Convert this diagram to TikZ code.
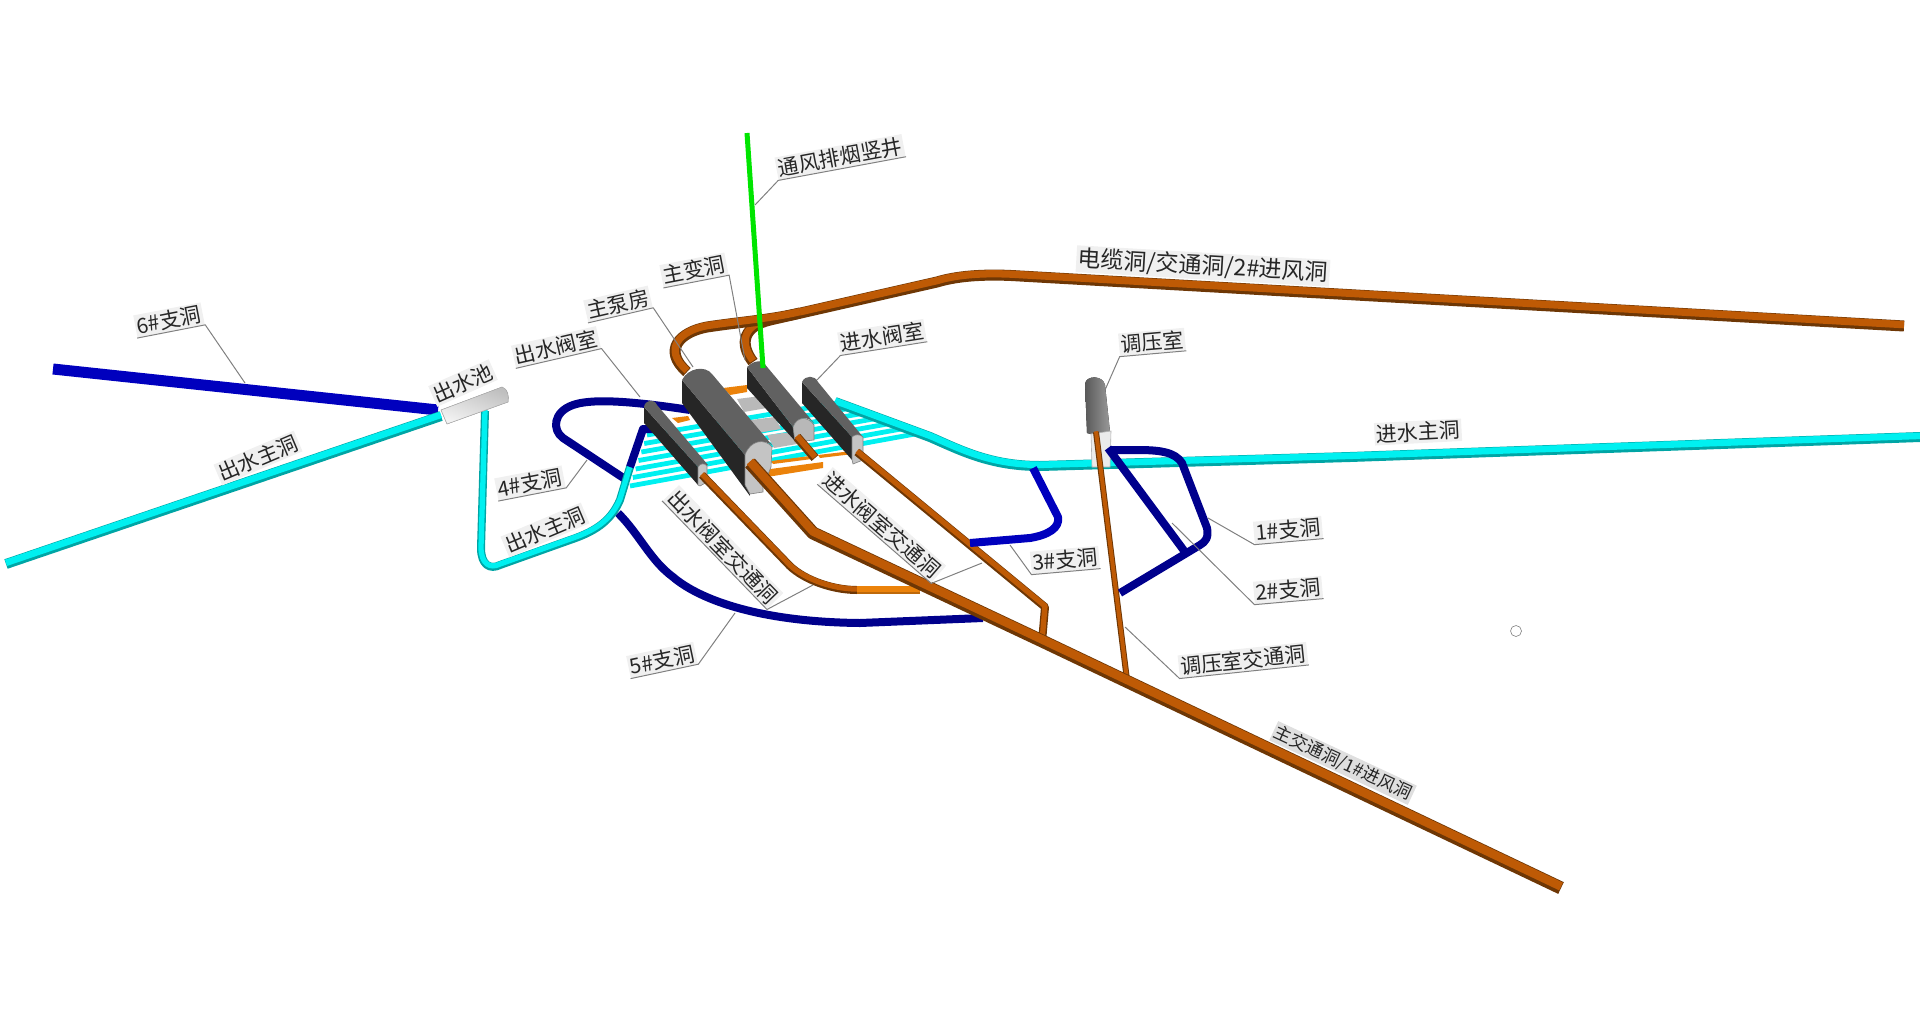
\documentclass[tikz,border=0pt]{standalone}
\usepackage{fontspec}
\setmainfont{Noto Sans CJK SC}
\usetikzlibrary{calc}
\definecolor{brownTop}{RGB}{190,90,5}
\definecolor{brownLow}{RGB}{110,55,5}
\definecolor{orangeTop}{RGB}{235,130,10}
\definecolor{orangeLow}{RGB}{190,105,10}
\definecolor{cyanTop}{RGB}{0,240,240}
\definecolor{cyanLow}{RGB}{0,165,165}
\definecolor{navyPipe}{RGB}{0,0,140}
\definecolor{bluePipe}{RGB}{0,0,190}
\tikzset{pipe/.style n args={3}{draw=#2, line width=#1*0.5pt, line join=round,
    postaction={draw=#3, line width=#1*0.33pt, transform canvas={shift={(0pt,#1*0.06pt)}}}}}
\tikzstyle{brownpipe} = [pipe={11}{brownLow}{brownTop}]
\tikzstyle{thinbrown} = [pipe={8}{brownLow}{brownTop}]
\tikzstyle{cyanpipe} = [pipe={10}{cyanLow}{cyanTop}]
\tikzstyle{navypipe} = [draw=navyPipe, line width=4pt, line join=round]
\tikzstyle{bluepipe} = [draw=bluePipe, line width=4pt, line join=round]
\tikzstyle{tag} = [fill=gray!12, text=black!85, inner sep=0.8pt, font=\fontsize{10.5}{11}\selectfont]
\tikzstyle{leader} = [draw=gray, line width=0.5pt]
\tikzstyle{roof} = [fill=black!62]
\tikzstyle{wall} = [fill=black!85]
\tikzstyle{face} = [fill=black!23, draw=black!50, line width=0.3pt]
\begin{document}
\begin{tikzpicture}[x=0.5pt,y=-0.5pt]
\useasboundingbox (0,0) rectangle (1920,1017);

% Outlet side
\draw [bluepipe, line width=5.5pt] (53,369) -- (438,410);
\draw [cyanpipe] (6,564) -- (441,416);

% Branch tunnels behind the caverns
\draw [navypipe] (625,479) -- (563,438) .. controls (552,430) and (553,412) .. (573,405) .. controls (590,399) and (625,400) .. (690,410);
\draw [navypipe] (618,513) .. controls (640,535) and (650,560) .. (673,577) .. controls (700,600) and (760,622) .. (860,623) -- (983,618);

% Bars between the valve chambers
\coordinate (barLeftLow) at (630,486);
\coordinate (barLeftHigh) at (647,435);
\coordinate (barRightLow) at (915,434);
\coordinate (barRightHigh) at (837,403);
\foreach \i in {0,...,6}
  \draw [draw=cyanTop, line width=2.4pt] ($(barLeftLow)!\i/6!(barLeftHigh)$) -- ($(barRightLow)!\i/6!(barRightHigh)$);

% Outlet main tunnel 2
\draw [pipe={8}{cyanLow}{cyanTop}] (485,411) -- (481,548) .. controls (481,565) and (490,570) .. (500,565) -- (570,540) .. controls (600,530) and (612,518) .. (620,500) -- (630,467);
\draw [navypipe] (630,467) -- (643,429) -- (656,429);

% Inlet main tunnel
\draw [cyanpipe] (835,402) -- (930,437) .. controls (960,450) and (990,466) .. (1040,466) -- (1350,457) -- (1920,437);

% Upper tunnels
\draw [brownpipe] (1904,326) -- (1020,276) .. controls (990,274) and (960,275) .. (937,282) -- (770,320) .. controls (745,326) and (738,342) .. (753,362);
\draw [brownpipe] (800,313) .. controls (770,320) and (740,322) .. (707,327) .. controls (680,332) and (662,350) .. (687,372);

% Orange cross pieces
\fill [orangeTop] (723,388) -- (747,385) -- (747,392) -- (730,395) -- cycle;
\fill [orangeTop] (672,418) -- (688,416) -- (690,420) -- (678,423) -- cycle;
\fill [orangeTop] (771,461) -- (810,456) -- (812,459) -- (773,464) -- cycle;
\fill [orangeTop] (818,455) -- (852,451) -- (853,454) -- (820,458) -- cycle;
\fill [orangeTop] (763,470) -- (823,462) -- (823,468) -- (767,477) -- cycle;

% Grey blocks between the caverns
\foreach \x/\y in {737/399, 751/420, 767/435}
  \fill [gray!55] (\x,\y) -- ++(24,-3) -- ++(6,12) -- ++(-23,4) -- cycle;

% Outlet valve chamber
\fill [wall] (644,407) -- (644,423) -- (698,485) -- (698,467) -- cycle;
\fill [roof] (644,407) .. controls (645,400) and (654,398) .. (657,405) -- (708,465) -- (698,467) -- cycle;
\fill [face] (698,467) .. controls (700,463) and (705,463) .. (707,466) -- (707,482) -- (700,486) -- (698,485) -- cycle;

% Main pump cavern
\fill [wall] (682,403) -- (750,496) -- (745,455) -- (682,380) -- cycle;
\fill [roof] (682,380) .. controls (688,368) and (705,365) .. (712,374) -- (772,445) .. controls (765,440) and (752,440) .. (745,455) -- cycle;
\fill [face] (745,455) .. controls (750,440) and (765,438) .. (772,447) -- (771,467) -- (763,487) -- (763,492) -- (750,494) -- (745,485) -- cycle;

% Main transformer cavern
\fill [wall] (747,367) -- (747,388) -- (795,441) -- (793,427) -- cycle;
\fill [roof] (747,367) .. controls (752,362) and (758,360) .. (763,362) -- (814,423) .. controls (808,416) and (797,416) .. (793,427) -- cycle;
\fill [face, fill=black!28] (793,427) .. controls (797,416) and (808,416) .. (814,425) -- (814,440) -- (795,442) -- cycle;

% Inlet valve chamber
\fill [wall] (802,382) -- (802,403) -- (852,460) -- (852,437) -- cycle;
\fill [roof] (802,382) .. controls (805,375) and (815,375) .. (818,382) -- (863,437) -- (852,437) -- cycle;
\fill [face] (852,437) .. controls (855,434) and (860,434) .. (863,437) -- (863,460) -- (853,464) -- (852,460) -- cycle;

% Green shaft
\draw [draw=green!90!black, line width=2.5pt] (747,133) -- (763,368);

% Outlet pool
\fill [draw=gray!60, line width=0.3pt, top color=gray!50, bottom color=gray!10, shading angle=-20] (441,410) -- (502,387) .. controls (508,389) and (509,396) .. (508,402) -- (447,424) -- cycle;

% Surge chamber
\fill [left color=black!65, right color=black!40] (1085,384) .. controls (1086,375) and (1103,375) .. (1105,385) -- (1110,432) -- (1091,434) -- (1087,433) -- cycle;
\fill [black!8, draw=black!30, line width=0.3pt] (1091,434) -- (1111,431) -- (1110,467) -- (1092,467) -- cycle;

% Access tunnels
\draw [thinbrown] (702,475) -- (787,563) .. controls (800,578) and (830,590) .. (857,590);
\draw [pipe={8}{orangeLow}{orangeTop}] (857,590) -- (920,590);
\draw [thinbrown] (857,452) -- (1045,607) -- (1042,642);
\draw [pipe={9}{brownLow}{brownTop}] (797,437) -- (815,458);
\draw [pipe={6}{brownLow}{brownTop}] (1096,432) -- (1127,680);
\draw [pipe={13}{brownLow}{brownTop}] (750,463) -- (813,533) -- (1040,640) -- (1561,888);

% Branch tunnels in front
\draw [bluepipe] (1033,468) -- (1058,517) .. controls (1060,528) and (1048,535) .. (1030,538) -- (970,543);
\draw [navypipe] (1110,450) -- (1137,450) .. controls (1160,450) and (1175,452) .. (1182,463) -- (1207,528) .. controls (1209,538) and (1205,542) .. (1200,545) -- (1120,593);
\draw [navypipe] (1108,448) -- (1185,552);

% Labels
\node (shaftTag) [tag, rotate=10.5] at (840,157) {通风排烟竖井};
\node (transformerTag) [tag, rotate=11] at (694,270) {主变洞};
\node (pumpTag) [tag, rotate=13] at (618,304) {主泵房};
\node (outValveTag) [tag, rotate=13] at (556,347) {出水阀室};
\node (inValveTag) [tag, rotate=9] at (882,337) {进水阀室};
\node (surgeTag) [tag, rotate=5] at (1152,342) {调压室};
\node (cableTag) [tag, rotate=-3.3, font=\fontsize{11.5}{12}\selectfont] at (1203,266) {电缆洞/交通洞/2\#进风洞};
\node (inMainTag) [tag, rotate=3] at (1418,432) {进水主洞};
\node (branchSixTag) [tag, rotate=11] at (169,320) {6\#支洞};
\node (outMainTagA) [tag, rotate=23] at (258,458) {出水主洞};
\node (poolTag) [tag, rotate=24] at (463,383) {出水池};
\node (branchFourTag) [tag, rotate=11] at (530,483) {4\#支洞};
\node (outMainTagB) [tag, rotate=23] at (545,530) {出水主洞};
\node (outAccessTag) [tag, rotate=-46] at (723,547) {出水阀室交通洞};
\node (inAccessTag) [tag, rotate=-41] at (882,525) {进水阀室交通洞};
\node (branchThreeTag) [tag, rotate=5] at (1065,560) {3\#支洞};
\node (branchOneTag) [tag, rotate=5] at (1288,530) {1\#支洞};
\node (branchTwoTag) [tag, rotate=5] at (1288,590) {2\#支洞};
\node (surgeAccessTag) [tag, rotate=6] at (1243,660) {调压室交通洞};
\node (branchFiveTag) [tag, rotate=12] at (662,660) {5\#支洞};
\node (mainAccessTag) [tag, rotate=-25, font=\fontsize{8.8}{10}\selectfont, fill=gray!25] at (1343,763) {主交通洞/1\#进风洞};

% Leaders
\draw [leader] (shaftTag.south east) -- (shaftTag.south west) -- (755,205);
\draw [leader] (transformerTag.south west) -- (transformerTag.south east) -- (745,360);
\draw [leader] (pumpTag.south west) -- (pumpTag.south east) -- (693,367);
\draw [leader] (outValveTag.south west) -- (outValveTag.south east) -- (640,397);
\draw [leader] (inValveTag.south east) -- (inValveTag.south west) -- (817,380);
\draw [leader] (surgeTag.south east) -- (surgeTag.south west) -- (1105,390);
\draw [leader] (branchSixTag.south west) -- (branchSixTag.south east) -- (245,383);
\draw [leader] (branchFourTag.south west) -- (branchFourTag.south east) -- (587,460);
\draw [leader] (outAccessTag.south west) -- (outAccessTag.south east) -- (813,585);
\draw [leader] (inAccessTag.south west) -- (inAccessTag.south east) -- (982,563);
\draw [leader] (branchThreeTag.south east) -- (branchThreeTag.south west) -- (1010,545);
\draw [leader] (branchOneTag.south east) -- (branchOneTag.south west) -- (1208,518);
\draw [leader] (branchTwoTag.south east) -- (branchTwoTag.south west) -- (1172,523);
\draw [leader] (surgeAccessTag.south east) -- (surgeAccessTag.south west) -- (1125,627);
\draw [leader] (branchFiveTag.south west) -- (branchFiveTag.south east) -- (735,613);

% Small marker
\node (marker) [circle, draw=gray, line width=0.3pt, inner sep=0pt, minimum size=5.5pt] at (1516,631) {};

\end{tikzpicture}
\end{document}
